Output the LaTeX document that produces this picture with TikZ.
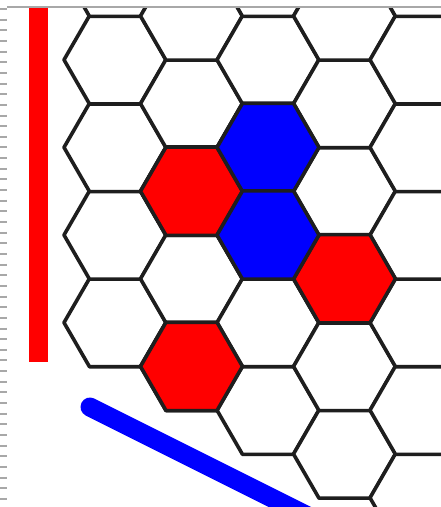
\documentclass[tikz,border=0pt]{standalone}
\usepackage{tikz}
\usetikzlibrary{shapes.geometric}
\definecolor{hxRed}{HTML}{FF0000}
\definecolor{hxBlue}{HTML}{0000FF}
\definecolor{hxInk}{HTML}{1E1E1E}
\definecolor{hxFrame}{HTML}{A8A8A8}
\tikzset{
  hx board/.style={x=1pt, y=-1pt, line join=round},
  hx cell/.style={shape=regular polygon, regular polygon sides=6,
    minimum size=102pt, inner sep=0pt, outer sep=0pt,
    draw=hxInk, fill=white, line width=3.6pt},
  hx red cell/.style={hx cell, fill=hxRed},
  hx blue cell/.style={hx cell, fill=hxBlue},
  hx red edge/.style={draw=hxRed, line width=19pt},
  hx blue edge/.style={draw=hxBlue, line width=19pt, line cap=round},
  hx frame/.style={draw=hxFrame, line width=1.2pt},
  hx ticks/.style={draw=hxFrame, line width=7pt, dash pattern=on 2pt off 8.65pt}
}

\begin{document}
\begin{tikzpicture}[hx board]
\useasboundingbox (0,0) rectangle (441,507);
\fill[white] (0,0) rectangle (441,507);
% screenshot frame
\draw[hx frame] (7,7) -- (441,7);
\draw[hx ticks] (3.5,8) -- (3.5,507);
\begin{scope}
\clip (8,8) rectangle (441,507);
% board cells, counted up from the bottom of each column
\foreach \i/\n in {0/4,1/4,2/5,3/5,4/6}
  \foreach \m in {0,...,\n}
    \node[hx cell] (c-\i-\m) at ({115+76.5*\i},{322.6+43.8*\i-87.6*\m}) {};
% stones
\foreach \i/\m/\s in {1/2/hx red cell,1/0/hx red cell,3/2/hx red cell,
                      2/3/hx blue cell,2/2/hx blue cell}
  \node[\s] (s-\i-\m) at (c-\i-\m.center) {};
% player edges
\coordinate (red top) at (38.5,8);
\coordinate (red end) at (38.5,362);
\draw[hx red edge] (red top) -- (red end);
\coordinate (blue start) at (90,407);
\coordinate (blue end) at (330,527);
\draw[hx blue edge] (blue start) -- (blue end);
\end{scope}
\end{tikzpicture}
\end{document}
